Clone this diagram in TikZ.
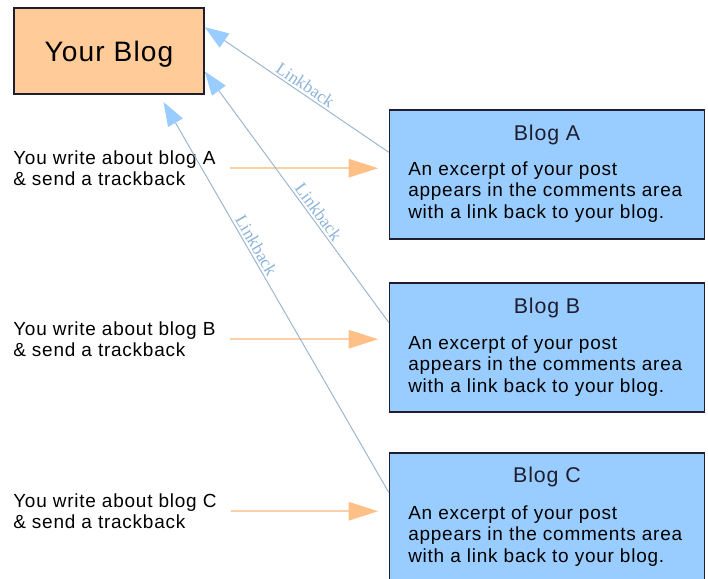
\documentclass[tikz,border=0pt]{standalone}
\usepackage{fontspec}
\setmainfont{Liberation Sans}[LetterSpace=4]
\newfontfamily\linkfont{Liberation Serif}
\usetikzlibrary{arrows.meta}
\definecolor{peach}{HTML}{FFCC99}
\definecolor{skyblue}{HTML}{99CCFF}
\definecolor{linkline}{HTML}{9CB6D0}
\definecolor{linktext}{HTML}{8DB3DA}
\definecolor{trackline}{HTML}{FAD0A8}
\definecolor{tracktip}{HTML}{FFC088}
\definecolor{boxline}{HTML}{1E1E30}

\begin{document}
\begin{tikzpicture}[x=0.025cm, y=-0.025cm,
    yourbox/.style={draw=boxline, line width=1pt, fill=peach, minimum width=4.75cm, minimum height=2.15cm, text depth=0pt, font=\fontsize{20}{24}\selectfont},
    blogbox/.style={draw=boxline, line width=1pt, fill=skyblue, minimum width=7.875cm, minimum height=3.225cm},
    blogtitle/.style={anchor=base, inner sep=0pt, text=boxline, font=\fontsize{15.2}{18}\selectfont},
    blogtext/.style={anchor=north west, inner sep=0pt, align=left, font=\fontsize{13.5}{15.6}\selectfont},
    track/.style={draw=trackline, line width=1.4pt, shorten <=10pt, shorten >=7.5pt, -{Triangle[length=21pt, width=13pt, color=tracktip]}},
    linkback/.style={draw=linkline, line width=0.7pt, -{Triangle[length=17pt, width=12pt, color=skyblue]}},
    linklabel/.style={sloped, above, inner sep=1.5pt, text=linktext, font=\linkfont\fontsize{12.5}{14}\selectfont}]

    \useasboundingbox (0,0) rectangle (708,578);

    \node[yourbox] (blog) at (109,51) {Your Blog};

    \node[blogbox] (A) at (547,174.5) {};
    \node[blogbox] (B) at (547,347.5) {};
    \node[blogbox] (C) at (547,517.5) {};

    \node[blogtitle] (Atitle) at (547,140) {Blog A};
    \node[blogtitle] (Btitle) at (547,313) {Blog B};
    \node[blogtitle] (Ctitle) at (547,482) {Blog C};

    \node[blogtext] (Abody) at (408,161) {An excerpt of your post\\appears in the comments area\\with a link back to your blog.};
    \node[blogtext] (Bbody) at (408,335) {An excerpt of your post\\appears in the comments area\\with a link back to your blog.};
    \node[blogtext] (Cbody) at (408,505) {An excerpt of your post\\appears in the comments area\\with a link back to your blog.};

    \node[blogtext] (wA) at (13,150) {You write about blog A\\\& send a trackback};
    \node[blogtext] (wB) at (13,321) {You write about blog B\\\& send a trackback};
    \node[blogtext] (wC) at (13,493) {You write about blog C\\\& send a trackback};

\draw[track] (wA.east) -- (wA.east -| A.west);
\draw[track] (wB.east) -- (wB.east -| B.west);
\draw[track] (wC.east) -- (wC.east -| C.west);

\draw[linkback] (A.172) -- (blog.14) node[linklabel, pos=0.48] {Linkback};
\draw[linkback] (B.171) -- (blog.-12.5) node[linklabel, pos=0.42] {Linkback};
\draw[linkback, shorten >=6pt] (C.171) -- (blog.-41.3) node[linklabel, pos=0.61] {Linkback};
\end{tikzpicture}
\end{document}
